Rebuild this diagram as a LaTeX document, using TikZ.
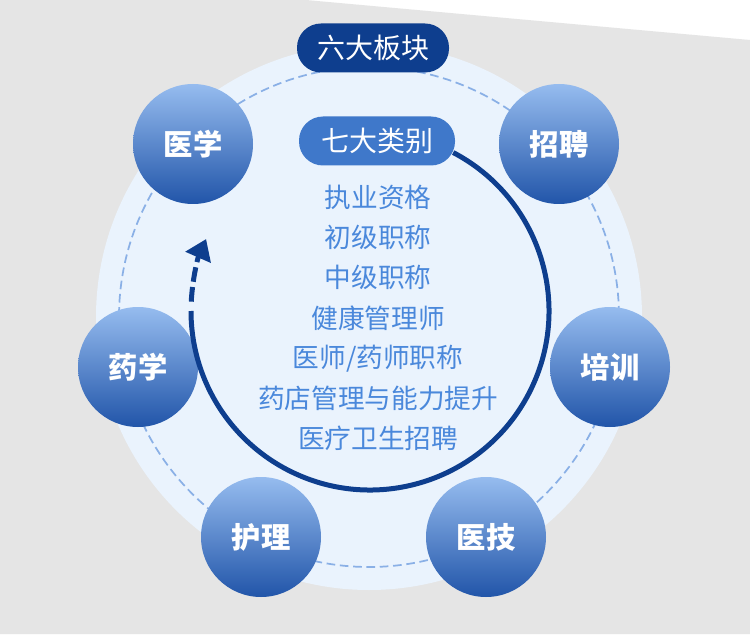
\documentclass[tikz,border=0pt]{standalone}
\usepackage{fontspec}
\setmainfont{Noto Sans CJK SC}
\usetikzlibrary{arrows.meta}

\definecolor{paper}{HTML}{E5E5E5}
\definecolor{disc}{HTML}{EAF3FD}
\definecolor{ringBlue}{HTML}{8AB0E6}
\definecolor{navy}{HTML}{0E3E8E}
\definecolor{tagBlue}{HTML}{3F78CA}
\definecolor{itemBlue}{HTML}{4A88DB}
\definecolor{ballTop}{HTML}{96BCEF}
\definecolor{ballBot}{HTML}{2155A9}

\begin{document}
\begin{tikzpicture}[x=0.75pt,y=-0.75pt,
    ball/.style={circle,minimum size=90pt,inner sep=0pt,top color=ballTop,bottom color=ballBot,text=white,font=\fontsize{22}{26}\selectfont\bfseries},
    tag/.style={rounded corners=18pt,minimum height=36.75pt,inner sep=0pt,text=white,font=\fontsize{21}{25}\selectfont},
    item/.style={text=itemBlue,font=\fontsize{20}{24}\selectfont},
    loop/.style={draw=navy,line width=3.75pt}]

    \def\page{(0,0) rectangle (750,638)}
    \def\grey{(0,0) -- (306,0) -- (750,40) -- (750,634) -- (0,634) -- cycle}
    \def\disc{(369,317) circle[radius=273]}
    \def\ring{(369,317) circle[radius=250]}

    %background:
    \fill[white] \page;
    \fill[paper] \grey;
    \fill[disc] \disc;
    \draw[ringBlue,line width=1.3pt,dash pattern=on 6.5pt off 3.5pt] \ring;

    %six blocks:
    \node[ball] (med)   at (193,144) {医学};
    \node[ball] (job)   at (559,144) {招聘};
    \node[ball] (train) at (610,367) {培训};
    \node[ball] (pharm) at (138,367) {药学};
    \node[ball] (nurse) at (261,537) {护理};
    \node[ball] (tech)  at (486,537) {医技};

    %loop arrow:
    \coordinate (hub) at (370,311);
    \draw[loop] ([shift={(-62.3:179)}]hub) arc[start angle=-62.3,end angle=180,radius=179];
    \draw[loop,dash pattern=on 11pt off 4pt,-{Triangle[length=15pt,width=20pt]}]
        ([shift={(183:179)}]hub) arc[start angle=183,end angle=203.7,radius=179];

    %titles:
    \node[tag,fill=navy,minimum width=114pt] (six) at (373,48) {六大板块};
    \node[tag,fill=tagBlue,minimum width=117pt] (seven) at (377,141) {七大类别};

    %seven categories:
    \foreach \t [count=\i] in {执业资格,初级职称,中级职称,健康管理师,医师/药师职称,药店管理与能力提升,医疗卫生招聘}
        \node[item] (cat\i) at (378,{197+40.3*(\i-1)}) {\t};

\end{tikzpicture}
\end{document}
